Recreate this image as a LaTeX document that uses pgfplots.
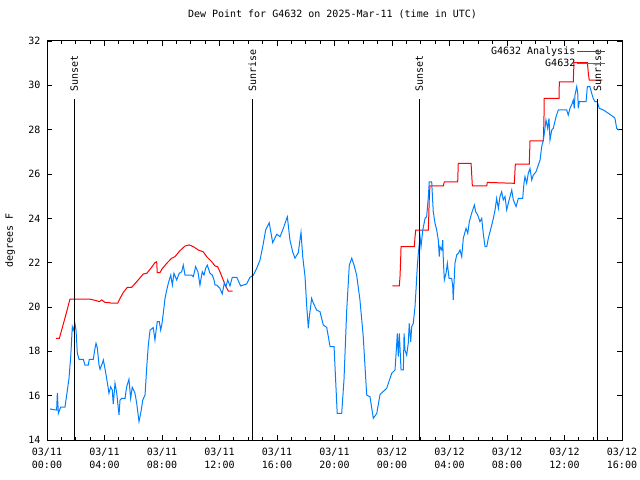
\documentclass[border=0pt]{standalone}
\usepackage{pgfplots}
\pgfplotsset{compat=1.18}
\usepackage{fontspec}
\setmainfont{DejaVu Sans Mono}
\definecolor{obsblue}{RGB}{0,128,255}
\begin{document}
\fontsize{10bp}{12bp}\selectfont
\begin{tikzpicture}
\useasboundingbox (0,0) rectangle (640bp,480bp);
\begin{axis}[
  at={(47bp,40bp)}, anchor=south west,
  scale only axis, width=575bp, height=399bp,
  xmin=0, xmax=40, ymin=14, ymax=32,
  xtick={0,4,...,40},
  xticklabels={{03/11\\00:00},{03/11\\04:00},{03/11\\08:00},{03/11\\12:00},{03/11\\16:00},{03/11\\20:00},{03/12\\00:00},{03/12\\04:00},{03/12\\08:00},{03/12\\12:00},{03/12\\16:00}},
  xticklabel style={align=center, font=\fontsize{10bp}{12.5bp}\selectfont, yshift=-5bp},
  yticklabel style={xshift=-3bp},
  minor x tick num=3,
  ytick={14,16,...,32},
  /pgf/number format/assume math mode=true,
  tick align=inside,
  major tick length=5bp, minor tick length=3bp,
  tick style={black, line width=0.8bp},
  axis line style={line width=1bp},
  title={Dew Point for G4632 on 2025-Mar-11 (time in UTC)},
  title style={at={(axis description cs:0.5,1)}, anchor=center, yshift=21bp, xshift=-2bp},
  ylabel={degrees F},
  ylabel style={at={(axis description cs:-0.064,0.5)}, anchor=center},
  legend cell align=right,
  legend plot pos=right,
  legend image code/.code={\draw[#1] (0bp,0bp) -- (28bp,0bp);},
  legend style={draw=none, fill=none, at={(1,1)}, anchor=north east, xshift=-13bp, yshift=-2bp, row sep=0.5bp, nodes={inner sep=1.5bp}, font=\fontsize{10bp}{12bp}\selectfont},
]
\addplot[red, line width=1bp] coordinates {
(0.63,18.59) (0.86,18.59) (1.02,18.96) (1.37,19.79) (1.60,20.36) (2.94,20.36) (3.22,20.32) (3.46,20.28) (3.64,20.24) (3.81,20.32) (4.03,20.21) (4.38,20.19) (4.50,20.17) (4.92,20.17) (5.08,20.39) (5.31,20.66) (5.59,20.89) (5.89,20.89) (6.24,21.14) (6.70,21.49) (6.94,21.52) (7.17,21.70) (7.51,22.00) (7.63,22.04) (7.67,21.55) (7.86,21.55) (7.98,21.70) (8.33,21.97) (8.67,22.20) (8.90,22.27) (9.25,22.54) (9.60,22.75) (9.90,22.80) (10.18,22.72) (10.53,22.57) (10.87,22.49) (11.11,22.27) (11.46,22.04) (11.69,21.85) (11.87,21.82) (12.03,21.59) (12.26,21.22) (12.45,20.92) (12.61,20.72) (12.92,20.72)
};
\addlegendentry{G4632 Analysis}
\addplot[red, line width=1bp, forget plot] coordinates {
(24.02,20.95) (24.51,20.95) (24.56,21.40) (24.61,22.30) (24.63,22.72) (25.55,22.72) (25.60,23.14) (25.65,23.47) (26.53,23.47) (26.59,24.83) (26.64,25.46) (27.57,25.46) (27.64,25.65) (28.57,25.65) (28.61,26.48) (29.50,26.48) (29.59,25.46) (30.59,25.46) (30.63,25.62) (32.51,25.58) (32.58,26.45) (33.55,26.45) (33.60,27.49) (34.53,27.49) (34.57,28.44) (34.59,29.41) (35.62,29.41) (35.64,30.16) (36.61,30.16) (36.66,31.02) (37.59,31.02) (37.66,30.54) (37.72,30.24) (38.63,30.24)
};
\addplot[obsblue, line width=1bp] coordinates {
(0.21,15.40) (0.67,15.35) (0.72,16.13) (0.79,15.20) (0.95,15.48) (1.25,15.48) (1.37,16.03) (1.53,16.78) (1.65,17.76) (1.76,19.11) (1.83,18.96) (1.95,19.23) (2.02,18.96) (2.11,17.91) (2.23,17.64) (2.53,17.64) (2.64,17.38) (2.87,17.38) (2.94,17.64) (3.22,17.64) (3.34,18.14) (3.41,18.36) (3.50,18.15) (3.62,17.38) (3.69,17.19) (3.85,17.46) (3.92,17.61) (4.03,17.23) (4.15,16.78) (4.26,16.33) (4.31,16.11) (4.43,16.40) (4.54,16.26) (4.61,15.62) (4.73,16.56) (4.85,16.12) (4.96,15.43) (5.01,15.13) (5.08,15.80) (5.20,15.88) (5.43,15.88) (5.54,16.40) (5.70,16.74) (5.82,15.88) (5.93,16.38) (6.12,16.11) (6.24,15.66) (6.40,14.83) (6.54,15.28) (6.66,15.80) (6.82,16.03) (6.94,17.31) (7.05,18.29) (7.17,18.96) (7.39,19.07) (7.51,18.51) (7.58,18.89) (7.67,19.34) (7.81,19.34) (7.91,18.96) (8.00,19.26) (8.09,19.72) (8.21,20.39) (8.33,20.77) (8.44,21.07) (8.61,21.44) (8.72,20.99) (8.83,21.52) (9.02,21.22) (9.20,21.52) (9.37,21.59) (9.48,21.89) (9.60,21.44) (10.07,21.44) (10.18,21.37) (10.34,21.82) (10.50,21.59) (10.64,20.99) (10.80,21.59) (10.92,21.44) (11.04,21.75) (11.15,21.89) (11.34,21.52) (11.50,21.44) (11.62,21.22) (11.69,20.99) (11.81,20.99) (12.03,20.84) (12.19,20.59) (12.33,21.07) (12.45,20.92) (12.57,21.22) (12.73,20.95) (12.89,21.34) (13.20,21.34) (13.47,20.95) (13.89,21.04) (14.12,21.34) (14.35,21.43) (14.59,21.75) (14.82,22.12) (15.05,22.87) (15.21,23.47) (15.46,23.80) (15.70,22.90) (15.98,23.28) (16.21,23.17) (16.44,23.55) (16.72,24.07) (16.90,23.02) (17.09,22.49) (17.25,22.20) (17.48,22.45) (17.67,23.37) (17.79,22.27) (17.95,21.37) (18.07,20.01) (18.18,19.04) (18.25,19.56) (18.41,20.39) (18.53,20.17) (18.76,19.86) (18.99,19.79) (19.22,19.19) (19.46,19.08) (19.69,18.21) (19.97,18.21) (20.15,15.73) (20.19,15.20) (20.50,15.20) (20.66,16.71) (20.85,19.86) (21.03,21.89) (21.20,22.20) (21.36,21.89) (21.54,21.44) (21.77,20.32) (22.00,18.66) (22.24,16.03) (22.47,15.95) (22.70,14.98) (22.94,15.20) (23.17,16.06) (23.63,16.33) (23.98,17.01) (24.21,17.16) (24.33,18.36) (24.37,18.81) (24.44,17.76) (24.51,18.81) (24.63,17.16) (24.79,17.16) (24.84,18.81) (24.90,18.06) (25.02,17.83) (25.13,18.36) (25.20,19.26) (25.30,18.43) (25.37,19.11) (25.48,19.26) (25.60,20.01) (25.67,20.77) (25.76,21.82) (25.83,22.42) (25.95,23.17) (26.02,22.72) (26.14,23.47) (26.30,24.00) (26.41,24.07) (26.53,24.98) (26.59,25.65) (26.76,25.65) (26.87,24.30) (26.99,23.78) (27.11,23.47) (27.22,23.02) (27.29,22.27) (27.34,22.72) (27.46,22.57) (27.53,23.02) (27.57,22.12) (27.64,21.22) (27.76,21.52) (27.85,21.97) (27.97,21.29) (28.15,21.29) (28.22,20.99) (28.26,20.32) (28.38,21.97) (28.50,22.35) (28.61,22.42) (28.73,22.57) (28.85,22.27) (28.96,23.10) (29.15,23.55) (29.27,23.32) (29.38,23.85) (29.54,24.23) (29.73,24.60) (29.82,24.30) (29.96,24.15) (30.12,23.85) (30.24,24.00) (30.35,23.32) (30.47,22.72) (30.59,22.72) (30.70,23.10) (30.82,23.40) (30.94,23.70) (31.05,24.00) (31.17,24.38) (31.28,24.90) (31.40,24.45) (31.51,24.98) (31.63,25.20) (31.74,24.83) (31.86,24.98) (31.98,24.38) (32.09,24.68) (32.21,24.98) (32.33,25.28) (32.44,24.83) (32.63,24.53) (32.79,24.90) (33.09,24.90) (33.18,25.58) (33.25,25.88) (33.37,25.58) (33.48,26.03) (33.60,26.25) (33.72,25.73) (33.83,25.95) (34.02,26.10) (34.18,26.41) (34.30,26.63) (34.41,27.23) (34.53,27.53) (34.64,28.06) (34.71,28.44) (34.83,28.06) (34.92,28.51) (34.99,27.53) (35.11,27.98) (35.22,28.06) (35.41,28.58) (35.57,28.89) (36.15,28.89) (36.26,28.66) (36.38,28.96) (36.54,29.19) (36.61,29.34) (36.68,28.96) (36.73,29.56) (36.85,29.94) (36.92,29.64) (36.96,28.96) (37.03,29.26) (37.50,29.26) (37.59,29.94) (37.77,29.94) (37.89,29.64) (38.00,29.41) (38.12,29.26) (38.28,29.26) (38.42,28.96) (38.70,28.89) (39.05,28.74) (39.40,28.58) (39.51,28.51) (39.63,28.06) (39.79,27.98)
};
\addlegendentry{G4632}
\addplot[black, line width=1bp, forget plot] coordinates {(1.90,14) (1.90,29.40)};
\addplot[black, line width=1bp, forget plot] coordinates {(14.28,14) (14.28,29.40)};
\addplot[black, line width=1bp, forget plot] coordinates {(25.90,14) (25.90,29.40)};
\addplot[black, line width=1bp, forget plot] coordinates {(38.28,14) (38.28,29.40)};
\node[rotate=90, anchor=west, inner sep=0pt] at (axis cs:1.90,29.70) {Sunset};
\node[rotate=90, anchor=west, inner sep=0pt] at (axis cs:14.28,29.70) {Sunrise};
\node[rotate=90, anchor=west, inner sep=0pt] at (axis cs:25.90,29.70) {Sunset};
\node[rotate=90, anchor=west, inner sep=0pt] at (axis cs:38.28,29.70) {Sunrise};
\end{axis}
\end{tikzpicture}
\end{document}
